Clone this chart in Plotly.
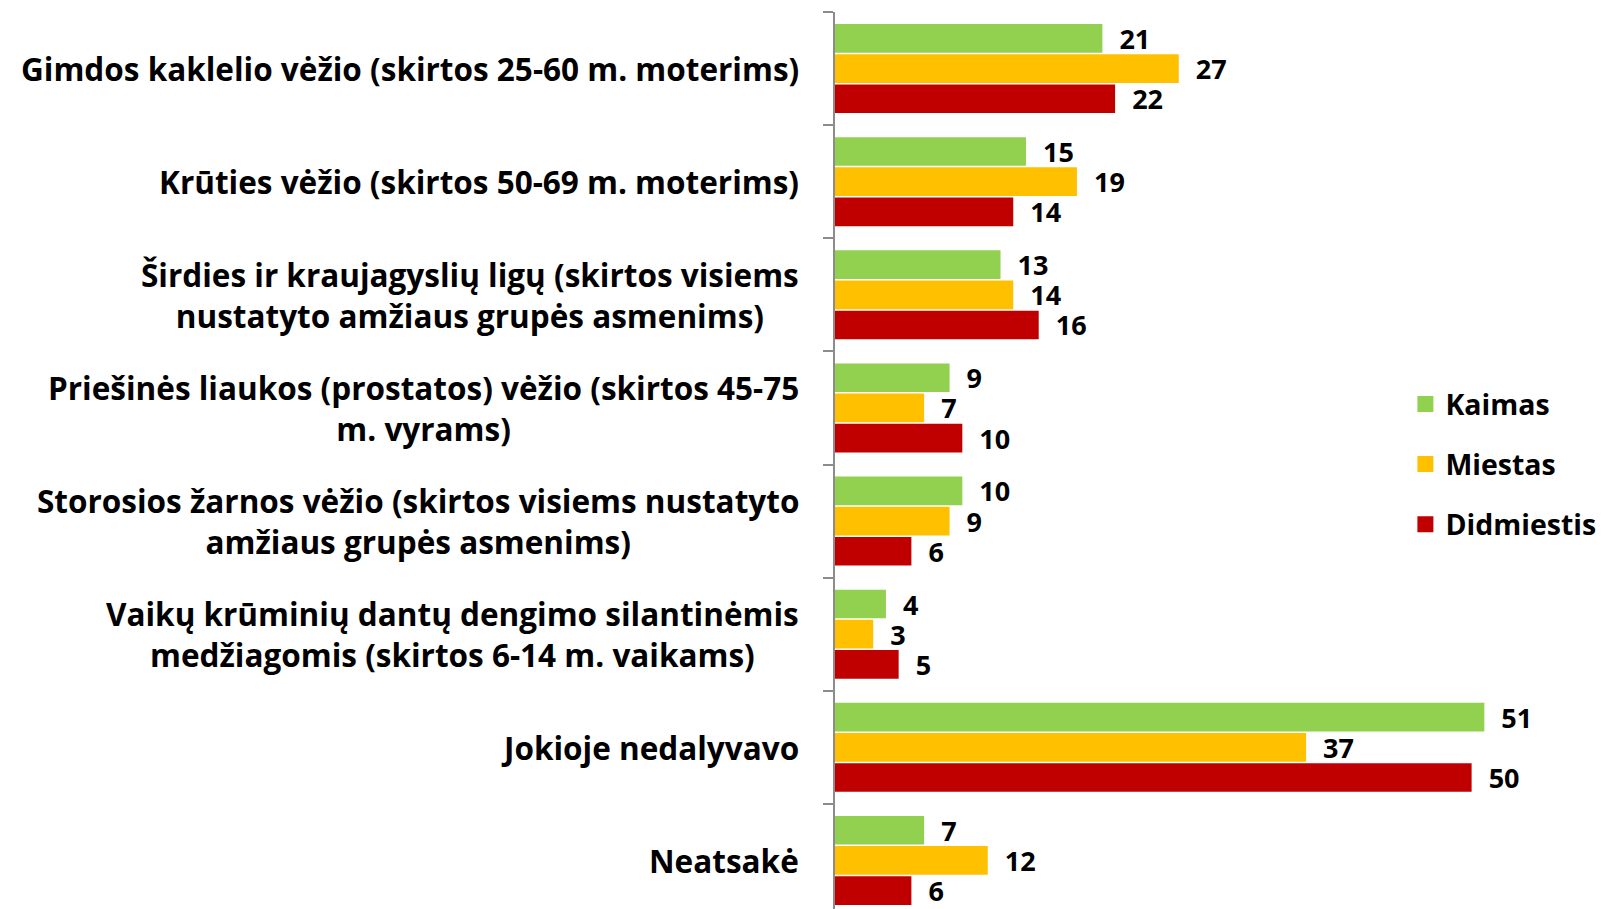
import plotly.graph_objects as go

categories = [
    "Gimdos kaklelio vėžio (skirtos 25-60 m. moterims)",
    "Krūties vėžio (skirtos 50-69 m. moterims)",
    "Širdies ir kraujagyslių ligų (skirtos visiems<br>nustatyto amžiaus grupės asmenims)",
    "Priešinės liaukos (prostatos) vėžio (skirtos 45-75<br>m. vyrams)",
    "Storosios žarnos vėžio (skirtos visiems nustatyto<br>amžiaus grupės asmenims)",
    "Vaikų krūminių dantų dengimo silantinėmis<br>medžiagomis (skirtos 6-14 m. vaikams)",
    "Jokioje nedalyvavo",
    "Neatsakė",
]
kaimas = [21, 15, 13, 9, 10, 4, 51, 7]
miestas = [27, 19, 14, 7, 9, 3, 37, 12]
didmiestis = [22, 14, 16, 10, 6, 5, 50, 6]

series = [("Kaimas", kaimas, "#92D050"), ("Miestas", miestas, "#FFC000"), ("Didmiestis", didmiestis, "#C00000")]

FONT = "Open Sans"
fig = go.Figure()
for name, vals, col in series:
    fig.add_trace(go.Bar(
        y=categories, x=vals, name=name, orientation="h",
        marker=dict(color=col, line=dict(width=0)),
        text=vals, texttemplate="  %{x}", textposition="outside",
        constraintext="none",
        textfont=dict(family=FONT, size=27, color="black", weight="bold"),
        cliponaxis=False, showlegend=False,
    ))

# legend-only entries with larger square swatches
for name, vals, col in series:
    fig.add_trace(go.Scatter(
        x=[None], y=[None], mode="markers", name=name,
        marker=dict(symbol="square", size=16, color=col),
        legendgroup=name, showlegend=True,
    ))

for c in categories:
    fig.add_annotation(
        x=0, xref="paper", y=c, yref="y", text=c, showarrow=False,
        xanchor="right", xshift=-34, align="center",
        font=dict(family=FONT, size=31.5, color="black", weight="bold"),
    )

fig.update_layout(
    width=1607, height=909,
    margin=dict(l=827, r=67, t=4, b=0),
    paper_bgcolor="white", plot_bgcolor="white",
    barmode="group", bargap=0.2, bargroupgap=0.05,
    font=dict(family=FONT, color="black"),
    showlegend=True,
    legend=dict(
        x=0.80, xanchor="left", y=0.5, yanchor="middle",
        font=dict(family=FONT, size=28.5, color="black", weight="bold"),
        tracegroupgap=20, traceorder="grouped",
        bgcolor="rgba(0,0,0,0)",
    ),
    xaxis=dict(range=[0, 56], visible=False),
    yaxis=dict(
        type="category", autorange="reversed", showticklabels=False,
        showline=True, linecolor="#8c8c8c", linewidth=2,
        ticks="outside", tickson="boundaries", ticklen=10, tickcolor="#8c8c8c", tickwidth=2,
        showgrid=False, zeroline=False,
    ),
)

fig.write_html("out.html")
